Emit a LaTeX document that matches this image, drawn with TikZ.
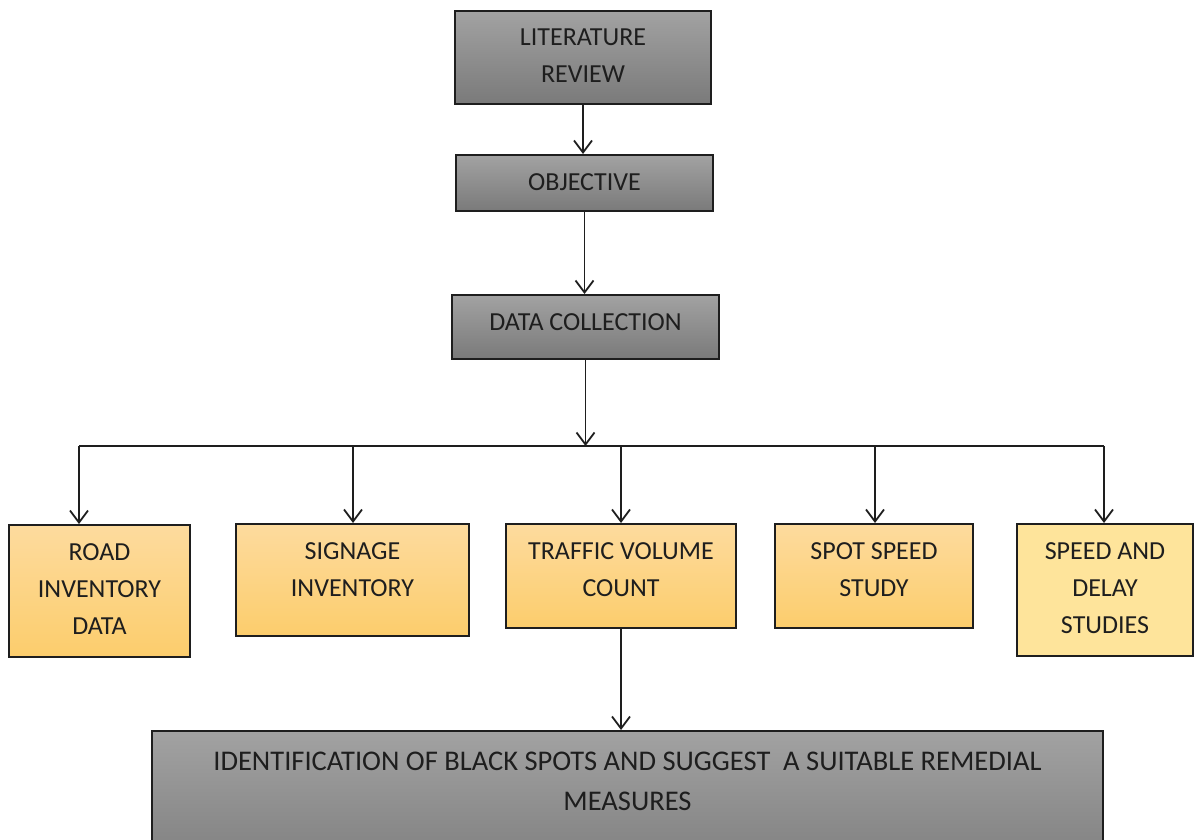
\documentclass[tikz,border=0pt]{standalone}
\usepackage{fontspec}
\setmainfont{Carlito}
\usetikzlibrary{positioning,arrows.meta}
\definecolor{GreyTop}{HTML}{A2A2A2}
\definecolor{GreyBottom}{HTML}{7A7A7A}
\definecolor{AmberTop}{HTML}{FDDB9E}
\definecolor{AmberBottom}{HTML}{FCCD6C}
\definecolor{AmberFlat}{HTML}{FEE49B}
\definecolor{Ink}{HTML}{1E1E1E}
\tikzset{
  card/.style={draw=Ink, line width=2pt, anchor=north, align=center,
               inner xsep=4pt, inner ysep=18pt, text height=17pt, text=Ink,
               font=\fontsize{26}{37}\selectfont},
  cardgrey/.style={card, top color=GreyTop, bottom color=GreyBottom},
  cardamber/.style={card, top color=AmberTop, bottom color=AmberBottom},
  cardpale/.style={card, fill=AmberFlat},
  twolines/.style={text height=54pt},
  threelines/.style={text height=91pt},
  flow/.style={-{Straight Barb[length=12pt,width=18pt]}, line width=1.8pt, Ink},
  bus/.style={line width=1.8pt, Ink},
}
\begin{document}
\begin{tikzpicture}[x=1pt, y=-1pt]
  \useasboundingbox (0,0) rectangle (1194,840);
  \node[cardgrey, twolines, minimum width=256pt, text depth=3pt] (lit) at (583,10) {LITERATURE\\REVIEW};
  \node[cardgrey, minimum width=257pt, text depth=3pt] (obj) at (584.5,154) {OBJECTIVE};
  \node[cardgrey, minimum width=267pt, text depth=11pt] (data) at (585.5,294) {DATA COLLECTION};
  \draw[flow] (lit.south) -- (lit.south |- obj.north);
  \draw[flow] (obj.south) -- (obj.south |- data.north);

  % second row
  \node[cardamber, threelines, minimum width=181pt, text depth=5pt] (road) at (99.5,524) {ROAD\\INVENTORY\\DATA};
  \node[cardamber, twolines, minimum width=233pt, text depth=22pt] (sign) at (352.5,523) {SIGNAGE\\INVENTORY};
  \node[cardamber, twolines, minimum width=230pt, text depth=14pt] (traffic) at (621,523) {TRAFFIC VOLUME\\COUNT};
  \node[cardamber, twolines, minimum width=198pt, text depth=14pt] (spot) at (874,523) {SPOT SPEED\\STUDY};
  \node[cardpale, threelines, minimum width=176pt, text depth=5pt] (delay) at (1105,523) {SPEED AND\\DELAY\\STUDIES};

  \coordinate (bus) at (587,446);
  \draw[flow] (data.south) -- (data.south |- bus);
  \foreach \x/\n in {79/road,353/sign,621/traffic,875/spot,1104/delay}
    \coordinate (bus-\n) at (\x,446);
  \draw[bus] (bus-road) -- (bus-delay);
  \foreach \n in {road,sign,traffic,spot,delay}
    \draw[flow] (bus-\n) -- (bus-\n |- \n.north);

  \node[cardgrey, minimum width=951pt, text height=61.4pt, text depth=60pt,
        font=\fontsize{28.5}{40}\selectfont] (remedy) at (627.5,730)
        {IDENTIFICATION OF BLACK SPOTS AND SUGGEST~ A SUITABLE REMEDIAL\\MEASURES};
  \draw[flow] (traffic.south) -- (traffic.south |- remedy.north);
\end{tikzpicture}
\end{document}
